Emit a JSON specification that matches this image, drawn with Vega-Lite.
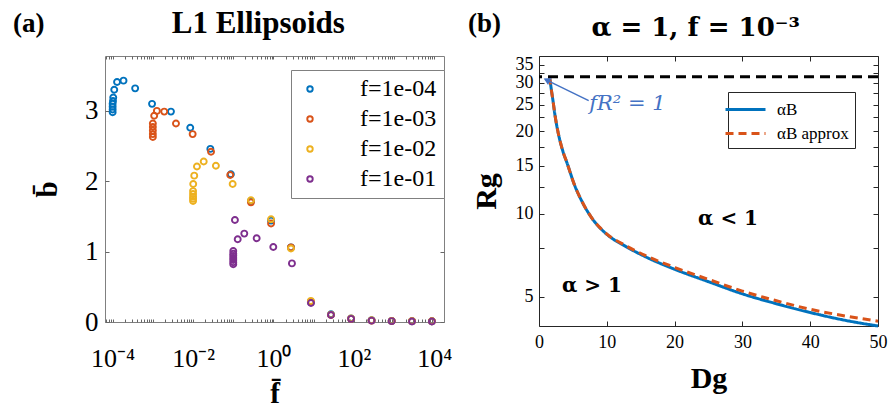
{
  "$schema": "https://vega.github.io/schema/vega-lite/v6.json",
  "padding": {"left": 12, "top": 7, "right": 0, "bottom": 0},
  "background": "white",
  "spacing": 95,
  "bounds": "flush",
  "config": {
    "font": "Liberation Serif",
    "axis": {"grid": false, "domain": false, "labelColor": "#000", "titleColor": "#000", "labelFlush": false, "labelOverlap": false, "labelFont": "Liberation Serif", "titleFont": "Liberation Serif"},
    "legend": {"title": null, "labelFont": "Liberation Serif"}
  },
  "resolve": {"scale": {"color": "independent", "strokeDash": "independent"}, "legend": {"color": "independent", "strokeDash": "independent"}},
  "hconcat": [
    {
      "width": 339,
      "height": 266,
      "view": {"stroke": "#808080", "strokeWidth": 1},
      "resolve": {"axis": {"x": "independent", "y": "independent"}},
      "layer": [
        {
          "data": {"values": [
            {"f": "f=1e-04", "fbar": 0.0001, "b": 2.98},
            {"f": "f=1e-04", "fbar": 0.0001, "b": 3.02},
            {"f": "f=1e-04", "fbar": 0.0001, "b": 3.06},
            {"f": "f=1e-04", "fbar": 0.0001, "b": 3.10},
            {"f": "f=1e-04", "fbar": 0.000102, "b": 3.14},
            {"f": "f=1e-04", "fbar": 0.0001035, "b": 3.19},
            {"f": "f=1e-04", "fbar": 0.0001096, "b": 3.30},
            {"f": "f=1e-04", "fbar": 0.0001288, "b": 3.41},
            {"f": "f=1e-04", "fbar": 0.0001862, "b": 3.43},
            {"f": "f=1e-04", "fbar": 0.000363, "b": 3.32},
            {"f": "f=1e-04", "fbar": 0.000955, "b": 3.10},
            {"f": "f=1e-04", "fbar": 0.002818, "b": 2.99},
            {"f": "f=1e-04", "fbar": 0.008511, "b": 2.76},
            {"f": "f=1e-04", "fbar": 0.02692, "b": 2.46},
            {"f": "f=1e-04", "fbar": 0.0871, "b": 2.10},
            {"f": "f=1e-04", "fbar": 0.2754, "b": 1.72},
            {"f": "f=1e-04", "fbar": 0.871, "b": 1.44},
            {"f": "f=1e-04", "fbar": 2.723, "b": 1.06},
            {"f": "f=1e-04", "fbar": 8.511, "b": 0.28},
            {"f": "f=1e-04", "fbar": 26.92, "b": 0.11},
            {"f": "f=1e-04", "fbar": 85.11, "b": 0.05},
            {"f": "f=1e-04", "fbar": 275.4, "b": 0.025},
            {"f": "f=1e-04", "fbar": 871, "b": 0.015},
            {"f": "f=1e-04", "fbar": 2786, "b": 0.012},
            {"f": "f=1e-04", "fbar": 8710, "b": 0.01},
            {"f": "f=1e-03", "fbar": 0.001, "b": 2.63},
            {"f": "f=1e-03", "fbar": 0.001, "b": 2.67},
            {"f": "f=1e-03", "fbar": 0.001, "b": 2.72},
            {"f": "f=1e-03", "fbar": 0.001, "b": 2.77},
            {"f": "f=1e-03", "fbar": 0.001, "b": 2.82},
            {"f": "f=1e-03", "fbar": 0.00108, "b": 2.93},
            {"f": "f=1e-03", "fbar": 0.00126, "b": 3.00},
            {"f": "f=1e-03", "fbar": 0.00192, "b": 2.99},
            {"f": "f=1e-03", "fbar": 0.00376, "b": 2.82},
            {"f": "f=1e-03", "fbar": 0.00977, "b": 2.67},
            {"f": "f=1e-03", "fbar": 0.028, "b": 2.42},
            {"f": "f=1e-03", "fbar": 0.084, "b": 2.09},
            {"f": "f=1e-03", "fbar": 0.2754, "b": 1.70},
            {"f": "f=1e-03", "fbar": 0.871, "b": 1.40},
            {"f": "f=1e-03", "fbar": 2.723, "b": 1.06},
            {"f": "f=1e-03", "fbar": 8.511, "b": 0.29},
            {"f": "f=1e-03", "fbar": 26.92, "b": 0.10},
            {"f": "f=1e-03", "fbar": 85.11, "b": 0.045},
            {"f": "f=1e-03", "fbar": 275.4, "b": 0.02},
            {"f": "f=1e-03", "fbar": 871, "b": 0.015},
            {"f": "f=1e-03", "fbar": 2786, "b": 0.012},
            {"f": "f=1e-03", "fbar": 8710, "b": 0.01},
            {"f": "f=1e-02", "fbar": 0.01, "b": 1.72},
            {"f": "f=1e-02", "fbar": 0.01, "b": 1.75},
            {"f": "f=1e-02", "fbar": 0.01, "b": 1.78},
            {"f": "f=1e-02", "fbar": 0.01, "b": 1.82},
            {"f": "f=1e-02", "fbar": 0.01, "b": 1.86},
            {"f": "f=1e-02", "fbar": 0.0101, "b": 1.96},
            {"f": "f=1e-02", "fbar": 0.0107, "b": 2.08},
            {"f": "f=1e-02", "fbar": 0.0125, "b": 2.21},
            {"f": "f=1e-02", "fbar": 0.0184, "b": 2.28},
            {"f": "f=1e-02", "fbar": 0.037, "b": 2.22},
            {"f": "f=1e-02", "fbar": 0.0966, "b": 1.96},
            {"f": "f=1e-02", "fbar": 0.2754, "b": 1.73},
            {"f": "f=1e-02", "fbar": 0.871, "b": 1.46},
            {"f": "f=1e-02", "fbar": 2.723, "b": 1.045},
            {"f": "f=1e-02", "fbar": 8.511, "b": 0.30},
            {"f": "f=1e-02", "fbar": 26.92, "b": 0.105},
            {"f": "f=1e-02", "fbar": 85.11, "b": 0.05},
            {"f": "f=1e-02", "fbar": 275.4, "b": 0.025},
            {"f": "f=1e-02", "fbar": 871, "b": 0.015},
            {"f": "f=1e-02", "fbar": 2786, "b": 0.012},
            {"f": "f=1e-02", "fbar": 8710, "b": 0.01},
            {"f": "f=1e-01", "fbar": 0.1, "b": 0.82},
            {"f": "f=1e-01", "fbar": 0.1, "b": 0.85},
            {"f": "f=1e-01", "fbar": 0.1, "b": 0.88},
            {"f": "f=1e-01", "fbar": 0.1, "b": 0.91},
            {"f": "f=1e-01", "fbar": 0.1, "b": 0.94},
            {"f": "f=1e-01", "fbar": 0.1, "b": 0.97},
            {"f": "f=1e-01", "fbar": 0.1, "b": 1.01},
            {"f": "f=1e-01", "fbar": 0.110, "b": 1.45},
            {"f": "f=1e-01", "fbar": 0.129, "b": 1.175},
            {"f": "f=1e-01", "fbar": 0.188, "b": 1.256},
            {"f": "f=1e-01", "fbar": 0.382, "b": 1.19},
            {"f": "f=1e-01", "fbar": 0.99, "b": 1.065},
            {"f": "f=1e-01", "fbar": 2.88, "b": 0.833},
            {"f": "f=1e-01", "fbar": 8.57, "b": 0.27},
            {"f": "f=1e-01", "fbar": 26.92, "b": 0.10},
            {"f": "f=1e-01", "fbar": 85.11, "b": 0.045},
            {"f": "f=1e-01", "fbar": 275.4, "b": 0.02},
            {"f": "f=1e-01", "fbar": 871, "b": 0.012},
            {"f": "f=1e-01", "fbar": 2786, "b": 0.008},
            {"f": "f=1e-01", "fbar": 8710, "b": 0.008}
          ]},
          "mark": {"type": "point", "filled": false, "size": 36, "strokeWidth": 1.9, "opacity": 1},
          "encoding": {
            "x": {
              "field": "fbar", "type": "quantitative",
              "scale": {"type": "log", "domain": [6.457e-5, 17420], "nice": false},
              "axis": {
                "title": "f̄", "titleFontSize": 29, "titleFontWeight": "bold", "titlePadding": 8,
                "values": [7e-5, 8e-5, 9e-5, 1e-4, 2e-4, 3e-4, 4e-4, 5e-4, 6e-4, 7e-4, 8e-4, 9e-4, 1e-3, 2e-3, 3e-3, 4e-3, 5e-3, 6e-3, 7e-3, 8e-3, 9e-3, 0.01, 0.02, 0.03, 0.04, 0.05, 0.06, 0.07, 0.08, 0.09, 0.1, 0.2, 0.3, 0.4, 0.5, 0.6, 0.7, 0.8, 0.9, 1, 2, 3, 4, 5, 6, 7, 8, 9, 10, 20, 30, 40, 50, 60, 70, 80, 90, 100, 200, 300, 400, 500, 600, 700, 800, 900, 1000, 2000, 3000, 4000, 5000, 6000, 7000, 8000, 9000, 10000],
                "labelExpr": "datum.value == 0.0001 ? '10⁻⁴' : datum.value == 0.01 ? '10⁻²' : datum.value == 1 ? '10⁰' : datum.value == 100 ? '10²' : datum.value == 10000 ? '10⁴' : ''",
                "labelFontSize": 26, "labelPadding": 26, "tickSize": -3, "tickColor": "#666"
              }
            },
            "y": {
              "field": "b", "type": "quantitative",
              "scale": {"domain": [0, 3.78], "nice": false, "zero": false},
              "axis": {
                "title": "b̄", "titleFontSize": 29, "titleFontWeight": "bold", "titlePadding": 22,
                "values": [0, 1, 2, 3], "format": "d", "labelFontSize": 27, "labelPadding": 11, "tickSize": -4, "tickColor": "#666"
              }
            },
            "color": {
              "field": "f", "type": "nominal",
              "scale": {"domain": ["f=1e-04", "f=1e-03", "f=1e-02", "f=1e-01"], "range": ["#0072BD", "#D95319", "#EDB120", "#7E2F8E"]},
              "legend": {
                "orient": "none", "legendX": 186, "legendY": 14, "strokeColor": "#808080", "fillColor": "white",
                "padding": 7, "labelFontSize": 24, "labelColor": "#000",
                "symbolSize": 30, "symbolStrokeWidth": 1.9, "labelOffset": 38, "rowPadding": 6,
                "encode": {"symbols": {"update": {"shape": {"value": "M8.2,0L8.124,0.383L7.907,0.707L7.583,0.924L7.2,1L6.817,0.924L6.493,0.707L6.276,0.383L6.2,0L6.276,-0.383L6.493,-0.707L6.817,-0.924L7.2,-1L7.583,-0.924L7.907,-0.707L8.124,-0.383Z"}}}}
              }
            }
          }
        },
        {
          "data": {"values": [{"fbar": 3.33e-7, "b": 4.121, "t": "(a)"}]},
          "mark": {"type": "text", "align": "left", "baseline": "alphabetic", "fontSize": 27, "fontWeight": "bold", "color": "#000"},
          "encoding": {
            "x": {"field": "fbar", "type": "quantitative", "axis": null},
            "y": {"field": "b", "type": "quantitative", "axis": null},
            "text": {"field": "t"}
          }
        },
        {
          "data": {"values": [{"fbar": 0.42, "b": 4.10, "t": "L1 Ellipsoids"}]},
          "mark": {"type": "text", "align": "center", "baseline": "alphabetic", "fontSize": 31, "fontWeight": "bold", "color": "#000"},
          "encoding": {
            "x": {"field": "fbar", "type": "quantitative", "axis": {"orient": "top", "labels": false, "title": null, "tickSize": -3, "tickColor": "#666",
              "values": [7e-5, 8e-5, 9e-5, 1e-4, 2e-4, 3e-4, 4e-4, 5e-4, 6e-4, 7e-4, 8e-4, 9e-4, 1e-3, 2e-3, 3e-3, 4e-3, 5e-3, 6e-3, 7e-3, 8e-3, 9e-3, 0.01, 0.02, 0.03, 0.04, 0.05, 0.06, 0.07, 0.08, 0.09, 0.1, 0.2, 0.3, 0.4, 0.5, 0.6, 0.7, 0.8, 0.9, 1, 2, 3, 4, 5, 6, 7, 8, 9, 10, 20, 30, 40, 50, 60, 70, 80, 90, 100, 200, 300, 400, 500, 600, 700, 800, 900, 1000, 2000, 3000, 4000, 5000, 6000, 7000, 8000, 9000, 10000]}},
            "y": {"field": "b", "type": "quantitative", "axis": {"orient": "right", "labels": false, "title": null, "tickSize": -4, "tickColor": "#666", "values": [0, 1, 2, 3]}},
            "text": {"field": "t"}
          }
        }
      ]
    },
    {
      "width": 339,
      "height": 270,
      "view": {"stroke": "#262626", "strokeWidth": 1},
      "resolve": {"axis": {"x": "independent", "y": "independent"}},
      "layer": [
        {
          "data": {"values": [
            {"series": "αB", "Dg": 1.55, "Rg": 31.62},
            {"series": "αB", "Dg": 1.7, "Rg": 29.8},
            {"series": "αB", "Dg": 1.85, "Rg": 28.0},
            {"series": "αB", "Dg": 2.06, "Rg": 25.9},
            {"series": "αB", "Dg": 2.3, "Rg": 23.4},
            {"series": "αB", "Dg": 2.6, "Rg": 21.1},
            {"series": "αB", "Dg": 3.0, "Rg": 18.9},
            {"series": "αB", "Dg": 3.5, "Rg": 17.0},
            {"series": "αB", "Dg": 4.19, "Rg": 15.2},
            {"series": "αB", "Dg": 5.16, "Rg": 12.9},
            {"series": "αB", "Dg": 6.4, "Rg": 11.03},
            {"series": "αB", "Dg": 7.88, "Rg": 9.6},
            {"series": "αB", "Dg": 9.84, "Rg": 8.5},
            {"series": "αB", "Dg": 12.79, "Rg": 7.62},
            {"series": "αB", "Dg": 15.74, "Rg": 6.98},
            {"series": "αB", "Dg": 20.16, "Rg": 6.27},
            {"series": "αB", "Dg": 25.07, "Rg": 5.66},
            {"series": "αB", "Dg": 30.0, "Rg": 5.12},
            {"series": "αB", "Dg": 34.9, "Rg": 4.72},
            {"series": "αB", "Dg": 39.8, "Rg": 4.39},
            {"series": "αB", "Dg": 44.75, "Rg": 4.12},
            {"series": "αB", "Dg": 50, "Rg": 3.91}
          ]},
          "mark": {"type": "line", "strokeWidth": 3, "interpolate": "monotone"},
          "encoding": {
            "x": {
              "field": "Dg", "type": "quantitative",
              "scale": {"domain": [0, 50], "nice": false, "zero": false},
              "axis": {
                "title": "Dg", "titleFontSize": 30, "titleFontWeight": "bold", "titlePadding": 12,
                "values": [0, 10, 20, 30, 40, 50], "labelFontSize": 18, "labelPadding": 12, "tickSize": -5, "tickColor": "#262626"
              }
            },
            "y": {
              "field": "Rg", "type": "quantitative",
              "scale": {"type": "log", "domain": [3.91, 37.6], "nice": false},
              "axis": {
                "title": "Rg", "titleFontSize": 30, "titleFontWeight": "bold", "titlePadding": 14,
                "values": [5, 7.5, 10, 12.5, 15, 17.5, 20, 22.5, 25, 27.5, 30, 32.5, 35],
                "labelExpr": "datum.value % 5 == 0 ? datum.label : ''",
                "labelFontSize": 18, "labelPadding": 11, "tickSize": -5, "tickColor": "#262626"
              }
            },
            "color": {
              "field": "series", "type": "nominal",
              "scale": {"domain": ["αB", "αB approx"], "range": ["#0072BD", "#D95319"]},
              "legend": {
                "orient": "none", "legendX": 189, "legendY": 36, "strokeColor": "#262626", "fillColor": "white",
                "padding": 6, "labelFontSize": 17, "labelColor": "#000", "symbolType": "M-2,0L2,0", "symbolSize": 400,
                "symbolStrokeWidth": 3, "labelOffset": 20, "rowPadding": 4
              }
            },
            "strokeDash": {
              "field": "series", "type": "nominal",
              "scale": {"domain": ["αB", "αB approx"], "range": [[1, 0], [8, 5]]},
              "legend": {
                "orient": "none", "legendX": 189, "legendY": 36, "strokeColor": "#262626", "fillColor": "white",
                "padding": 6, "labelFontSize": 17, "labelColor": "#000", "symbolType": "M-2,0L2,0", "symbolSize": 400,
                "symbolStrokeWidth": 3, "labelOffset": 20, "rowPadding": 4
              }
            }
          }
        },
        {
          "data": {"values": [
            {"series": "αB approx", "Dg": 1.55, "Rg": 31.62},
            {"series": "αB approx", "Dg": 1.7, "Rg": 29.8},
            {"series": "αB approx", "Dg": 1.85, "Rg": 28.0},
            {"series": "αB approx", "Dg": 2.06, "Rg": 25.9},
            {"series": "αB approx", "Dg": 2.3, "Rg": 23.4},
            {"series": "αB approx", "Dg": 2.6, "Rg": 21.1},
            {"series": "αB approx", "Dg": 3.0, "Rg": 18.9},
            {"series": "αB approx", "Dg": 3.5, "Rg": 17.0},
            {"series": "αB approx", "Dg": 4.19, "Rg": 15.2},
            {"series": "αB approx", "Dg": 5.16, "Rg": 12.9},
            {"series": "αB approx", "Dg": 6.4, "Rg": 11.03},
            {"series": "αB approx", "Dg": 7.88, "Rg": 9.6},
            {"series": "αB approx", "Dg": 9.84, "Rg": 8.52},
            {"series": "αB approx", "Dg": 12.79, "Rg": 7.67},
            {"series": "αB approx", "Dg": 15.74, "Rg": 7.05},
            {"series": "αB approx", "Dg": 20.16, "Rg": 6.37},
            {"series": "αB approx", "Dg": 25.07, "Rg": 5.77},
            {"series": "αB approx", "Dg": 30.0, "Rg": 5.24},
            {"series": "αB approx", "Dg": 34.9, "Rg": 4.84},
            {"series": "αB approx", "Dg": 39.8, "Rg": 4.51},
            {"series": "αB approx", "Dg": 44.75, "Rg": 4.27},
            {"series": "αB approx", "Dg": 50, "Rg": 4.07}
          ]},
          "mark": {"type": "line", "strokeWidth": 3, "interpolate": "monotone"},
          "encoding": {
            "x": {"field": "Dg", "type": "quantitative", "axis": null},
            "y": {"field": "Rg", "type": "quantitative", "axis": null},
            "color": {"field": "series", "type": "nominal"},
            "strokeDash": {"field": "series", "type": "nominal"}
          }
        },
        {
          "data": {"values": [{"Rg": 31.62}]},
          "mark": {"type": "rule", "color": "#000", "strokeWidth": 3, "strokeDash": [10, 6]},
          "encoding": {"y": {"field": "Rg", "type": "quantitative", "axis": null}}
        },
        {
          "data": {"values": [{"Dg": 7.33, "Rg": 25.85, "Dg2": 0.9, "Rg2": 30.9}]},
          "mark": {"type": "rule", "color": "#4472C4", "strokeWidth": 1.5},
          "encoding": {
            "x": {"field": "Dg", "type": "quantitative", "axis": null},
            "y": {"field": "Rg", "type": "quantitative", "axis": null},
            "x2": {"field": "Dg2"},
            "y2": {"field": "Rg2"}
          }
        },
        {
          "data": {"values": [{"Dg": 1.14, "Rg": 30.74}]},
          "mark": {"type": "point", "shape": "triangle-up", "filled": true, "color": "#4472C4", "size": 60, "angle": 296, "opacity": 1},
          "encoding": {
            "x": {"field": "Dg", "type": "quantitative", "axis": null},
            "y": {"field": "Rg", "type": "quantitative", "axis": null}
          }
        },
        {
          "data": {"values": [{"Dg": 7.41, "Rg": 23.9, "t": "fR² = 1"}]},
          "mark": {"type": "text", "align": "left", "baseline": "alphabetic", "fontSize": 21, "fontStyle": "italic", "font": "DejaVu Serif", "color": "#4472C4"},
          "encoding": {
            "x": {"field": "Dg", "type": "quantitative", "axis": null},
            "y": {"field": "Rg", "type": "quantitative", "axis": null},
            "text": {"field": "t"}
          }
        },
        {
          "data": {"values": [{"Dg": 27.88, "Rg": 9.59, "t": "α < 1"}, {"Dg": 7.82, "Rg": 5.47, "t": "α > 1"}]},
          "mark": {"type": "text", "align": "center", "baseline": "middle", "fontSize": 20, "fontWeight": "bold", "font": "DejaVu Serif", "color": "#000"},
          "encoding": {
            "x": {"field": "Dg", "type": "quantitative", "axis": null},
            "y": {"field": "Rg", "type": "quantitative", "axis": null},
            "text": {"field": "t"}
          }
        },
        {
          "data": {"values": [{"Dg": -10.47, "Rg": 45.98, "t": "(b)"}]},
          "mark": {"type": "text", "align": "left", "baseline": "alphabetic", "fontSize": 27, "fontWeight": "bold", "color": "#000"},
          "encoding": {
            "x": {"field": "Dg", "type": "quantitative", "axis": null},
            "y": {"field": "Rg", "type": "quantitative", "axis": null},
            "text": {"field": "t"}
          }
        },
        {
          "data": {"values": [{"Dg": 23.1, "Rg": 44.6, "t": "α = 1, f = 10⁻³"}]},
          "mark": {"type": "text", "align": "center", "baseline": "alphabetic", "fontSize": 26, "fontWeight": "bold", "font": "DejaVu Serif", "color": "#000"},
          "encoding": {
            "x": {"field": "Dg", "type": "quantitative", "axis": {"orient": "top", "labels": false, "title": null, "tickSize": -5, "tickColor": "#262626", "values": [0, 10, 20, 30, 40, 50]}},
            "y": {"field": "Rg", "type": "quantitative", "axis": {"orient": "right", "labels": false, "title": null, "tickSize": -5, "tickColor": "#262626", "values": [5, 7.5, 10, 12.5, 15, 17.5, 20, 22.5, 25, 27.5, 30, 32.5, 35]}},
            "text": {"field": "t"}
          }
        }
      ]
    }
  ]
}
